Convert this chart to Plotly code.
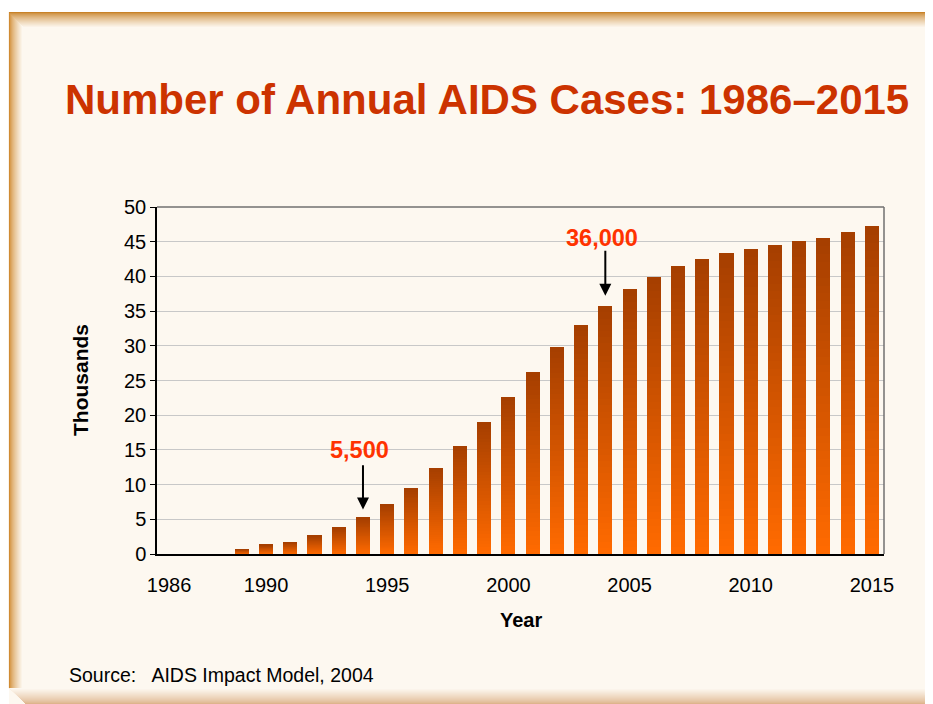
import plotly.graph_objects as go

years = list(range(1986, 2016))
cases_thousands = [0, 0, 0, 0.7, 1.3, 1.7, 2.6, 3.75, 5.2, 7.2, 9.5, 12.4, 15.6, 19.0, 22.6,
                   26.2, 29.8, 33.0, 35.7, 38.2, 39.9, 41.5, 42.5, 43.4, 43.9, 44.5, 45.1,
                   45.5, 46.4, 47.2]
tick_years = [1986, 1990, 1995, 2000, 2005, 2010, 2015]
callouts = [("5,500", 1994), ("36,000", 2004)]

# the page body adds an 8px margin; work in screen pixels and subtract it
OX, OY = 8, 8
SW, SH = 933, 704
W, H = SW - OX, SH - OY
L, R, T, B = 157, 884, 207, 554  # plot area in screen pixels
CREAM = "#FDF8F0"

def px(x):
    return (x - L) / (R - L)

def py(y):
    return (B - y) / (B - T)

fig = go.Figure()

# gradient bars via stacked slices (bottom bright -> top dark)
N = 40
c_bot = (255, 106, 0)
c_top = (166, 63, 0)
for i in range(N):
    f = i / (N - 1)
    col = tuple(round(c_bot[k] + (c_top[k] - c_bot[k]) * f) for k in range(3))
    fig.add_trace(go.Bar(
        x=years, y=[v / N for v in cases_thousands],
        marker=dict(color="rgb(%d,%d,%d)" % col, line=dict(width=0)),
        width=0.58, showlegend=False, hoverinfo="skip"))

fig.update_layout(
    width=W, height=H,
    barmode="stack", bargap=0,
    paper_bgcolor="white", plot_bgcolor=CREAM,
    margin=dict(l=L - OX, r=SW - R, t=T - OY, b=SH - B),
    font=dict(family="Liberation Sans, Arial, sans-serif", color="black"),
    xaxis=dict(range=[1985.5, 2015.5], tickvals=tick_years, ticktext=[str(y) for y in tick_years],
               showgrid=False, showline=True, linecolor="black", linewidth=1.5,
               ticks="", tickfont=dict(size=20), ticklabelstandoff=12, zeroline=False),
    yaxis=dict(range=[0, 50], tickvals=list(range(0, 55, 5)), showgrid=True,
               gridcolor="#C8C8C8", gridwidth=1.2, showline=True, linecolor="black", linewidth=1.5,
               ticks="outside", ticklen=5, tickcolor="black", tickfont=dict(size=20),
               zeroline=False),
)

def lerp(a, b, f):
    return "rgb(%d,%d,%d)" % tuple(round(a[k] + (b[k] - a[k]) * f) for k in range(3))

cream_rgb = (253, 248, 240)
shapes = []
shapes.append(dict(type="rect", xref="paper", yref="paper", x0=px(9), x1=px(SW + 2), y0=py(SH + 2), y1=py(12),
                   fillcolor=CREAM, line=dict(width=0), layer="below"))
# left bevel
for i in range(14):
    f = i / 13
    shapes.append(dict(type="line", xref="paper", yref="paper", x0=px(9.5 + i), x1=px(9.5 + i),
                       y0=py(SH - 16 + i), y1=py(12 + i),
                       line=dict(color=lerp((208, 138, 48), cream_rgb, f ** 0.7), width=1.2), layer="below"))
# top bevel
for i in range(16):
    f = i / 15
    shapes.append(dict(type="line", xref="paper", yref="paper", x0=px(9 + i), x1=px(SW),
                       y0=py(12.5 + i), y1=py(12.5 + i),
                       line=dict(color=lerp((200, 130, 40), cream_rgb, f ** 0.7), width=1.2), layer="below"))
# bottom bevel
for i in range(16):
    f = i / 15
    shapes.append(dict(type="line", xref="paper", yref="paper", x0=px(9 + 16 - i), x1=px(SW - 8 + i * 0.5),
                       y0=py(SH - 0.5 - i), y1=py(SH - 0.5 - i),
                       line=dict(color=lerp((222, 180, 140), cream_rgb, f ** 0.8), width=1.2), layer="below"))
# right bevel
for i in range(8):
    f = i / 7
    shapes.append(dict(type="line", xref="paper", yref="paper", x0=px(SW - 0.5 - i), x1=px(SW - 0.5 - i),
                       y0=py(SH - 16 + i), y1=py(12 + 16),
                       line=dict(color=lerp((240, 215, 190), cream_rgb, f), width=1.2), layer="below"))
# top and right border of plot area
shapes.append(dict(type="line", xref="paper", yref="paper", x0=0, x1=1, y0=1, y1=1,
                   line=dict(color="#707070", width=1.5)))
shapes.append(dict(type="line", xref="paper", yref="paper", x0=1, x1=1, y0=0, y1=1,
                   line=dict(color="#707070", width=1.5)))
fig.update_layout(shapes=shapes)

ann = []
ann.append(dict(text="<b>Number of Annual AIDS Cases: 1986–2015</b>", xref="paper", yref="paper",
                x=px(487), y=py(100), showarrow=False, xanchor="center", yanchor="middle",
                font=dict(size=42, color="#CC3300")))
ann.append(dict(text="<b>Thousands</b>", xref="paper", yref="paper", x=px(80), y=py(380),
                textangle=-90, showarrow=False, xanchor="center", yanchor="middle",
                font=dict(size=21)))
ann.append(dict(text="<b>Year</b>", xref="paper", yref="paper", x=px(521), y=py(620),
                showarrow=False, xanchor="center", yanchor="middle", font=dict(size=20)))
ann.append(dict(text="Source:   AIDS Impact Model, 2004", xref="paper", yref="paper", x=px(67), y=py(675),
                showarrow=False, xanchor="left", yanchor="middle", font=dict(size=19.5)))

label_y = {1994: (13.0, 6.4, 15.0), 2004: (43.9, 37.2, 45.6)}
for txt, yr in callouts:
    tail, head, ty = label_y[yr]
    ann.append(dict(x=yr, y=head, ax=yr, ay=tail, xref="x", yref="y", axref="x", ayref="y",
                    text="", showarrow=True, arrowhead=2, arrowsize=1.2, arrowwidth=2, arrowcolor="black"))
    ann.append(dict(x=yr - 0.15, y=ty, xref="x", yref="y", text="<b>%s</b>" % txt, showarrow=False,
                    xanchor="center", yanchor="middle", font=dict(size=23.5, color="#FF3300")))
fig.update_layout(annotations=ann)

fig.write_html("out.html")
